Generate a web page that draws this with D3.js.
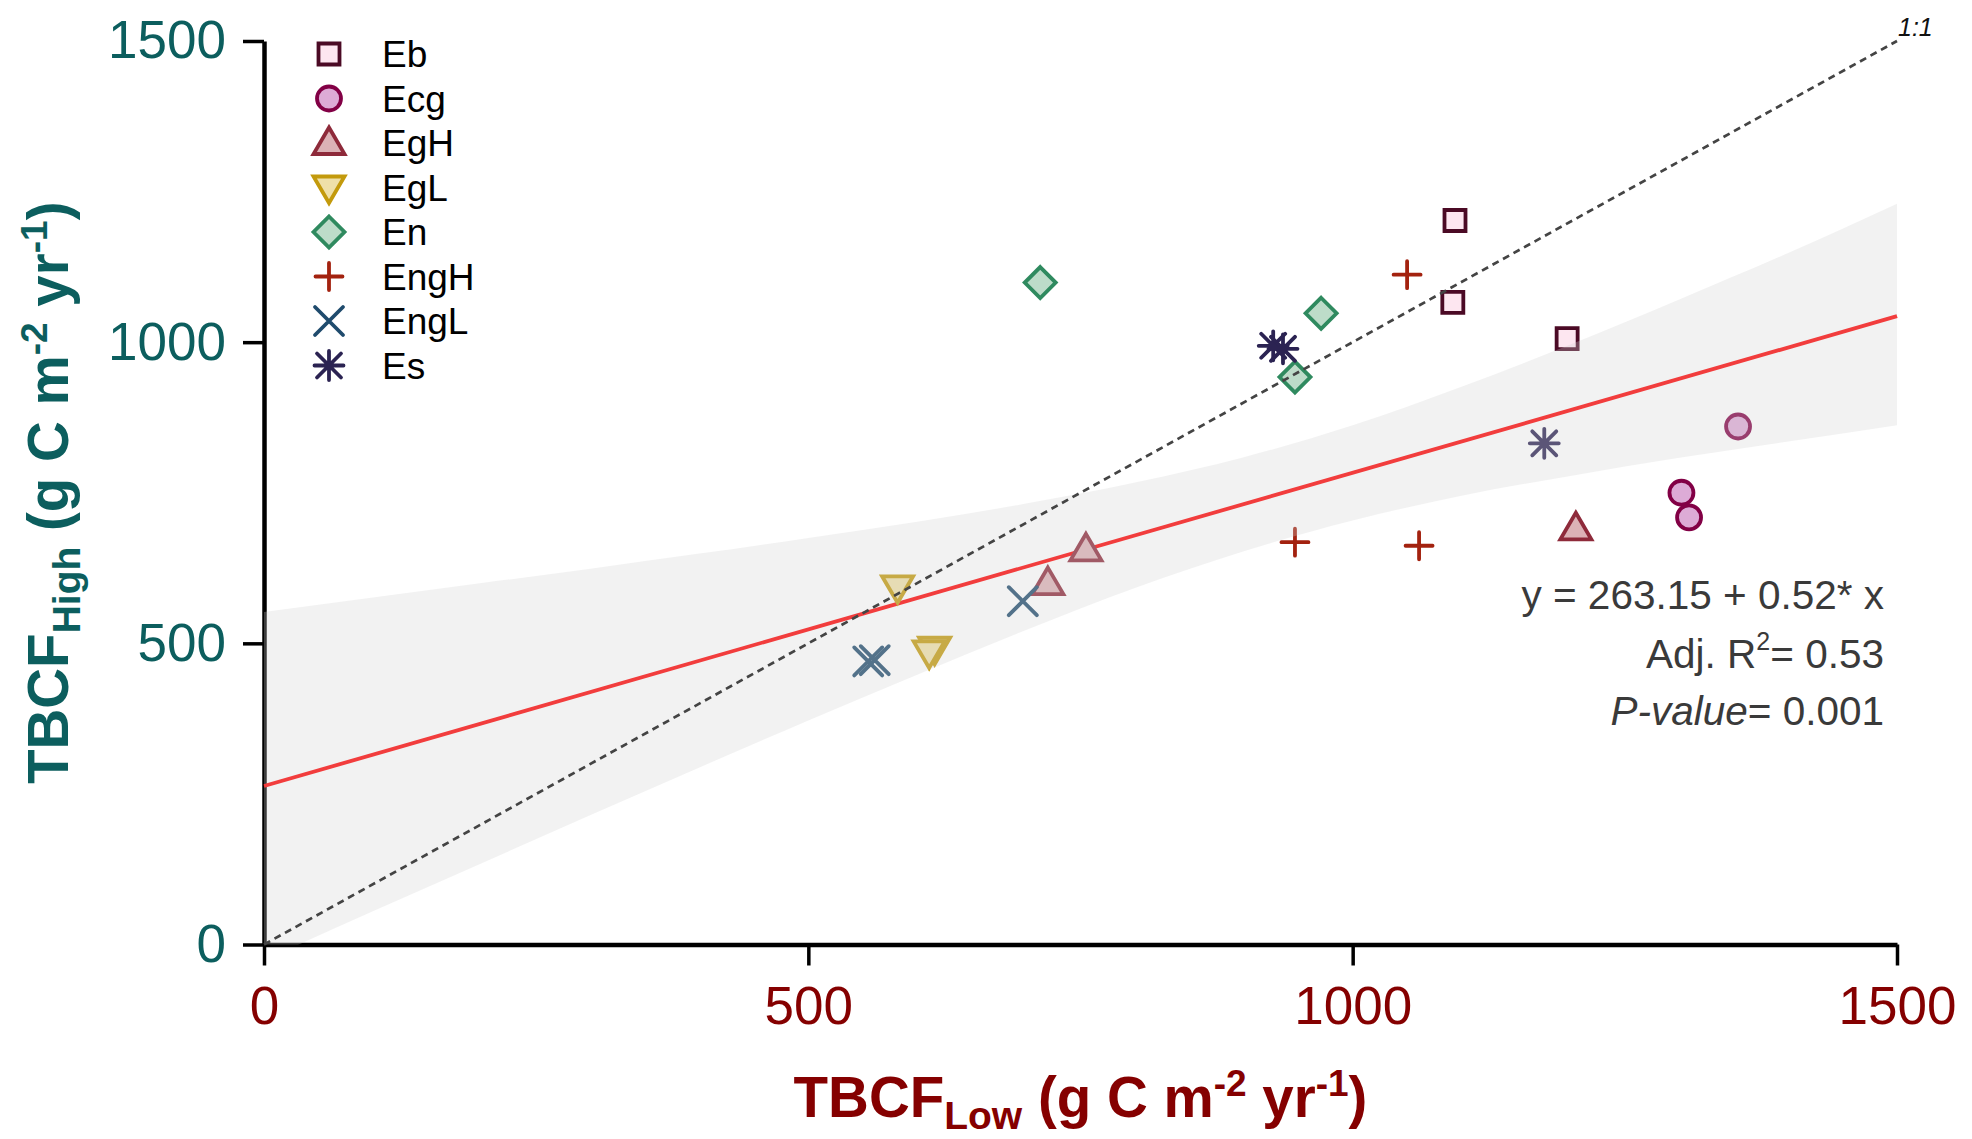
<!DOCTYPE html>
<html>
<head>
<meta charset="utf-8">
<script src="https://cdn.jsdelivr.net/npm/d3@7"></script>
<style>
body { margin: 0; background: #fff; }
text { font-family: "Liberation Sans", Arial, Helvetica, sans-serif; }
</style>
</head>
<body>
<svg id="chart" width="1972" height="1139"></svg>
<script>
// ---- data ----
var groups = ["Eb", "Ecg", "EgH", "EgL", "En", "EngH", "EngL", "Es"];

var lowEb   = [1094, 1092, 1197],  highEb   = [1202, 1066, 1006];
var lowEcg  = [1354, 1302, 1309],  highEcg  = [860, 750, 709];
var lowEgH  = [755, 720, 1205],    highEgH  = [656, 600, 691];
var lowEgL  = [582, 616, 611],     highEgL  = [593, 491, 485];
var lowEn   = [713, 971, 947],     highEn   = [1099, 1048, 942];
var lowEngH = [1050, 947, 1061],   highEngH = [1112, 668, 662];
var lowEngL = [697, 555, 561],     highEngL = [570, 470, 472];
var lowEs   = [927, 936, 1176],    highEs   = [994, 989, 832];

// regression line and its confidence band
var fitX = [0, 1500];
var fitY = [263.15, 1043.15];
var bandX     = [0, 100, 200, 300, 400, 500, 600, 700, 800, 900, 1000, 1100, 1200, 1300, 1400, 1500];
var bandLower = [-26, 55, 135, 215, 294, 372, 448, 522, 592, 653, 704, 745, 778, 808, 835, 862];
var bandUpper = [552, 576, 600, 624, 649, 675, 702, 732, 767, 809, 862, 926, 996, 1071, 1148, 1230];

var oneToOne = [0, 1500];
var xTicks = [0, 500, 1000, 1500];
var yTicks = [0, 500, 1000, 1500];

var seriesLow  = [lowEb, lowEcg, lowEgH, lowEgL, lowEn, lowEngH, lowEngL, lowEs];
var seriesHigh = [highEb, highEcg, highEgH, highEgL, highEn, highEngH, highEngL, highEs];

// ---- styles ----
var markerStyle = {
	Eb:   {shape: "square",   stroke: "#4b0a25", fill: "#fde6f0"},
	Ecg:  {shape: "circle",   stroke: "#820045", fill: "#ddabd6"},
	EgH:  {shape: "triUp",    stroke: "#8e2a3a", fill: "#dcb2b6"},
	EgL:  {shape: "triDown",  stroke: "#c39a0c", fill: "#efe0a8"},
	En:   {shape: "diamond",  stroke: "#2f8a5f", fill: "#bddcc9"},
	EngH: {shape: "plus",     stroke: "#a3220f", fill: "none"},
	EngL: {shape: "times",    stroke: "#1f4b6d", fill: "none"},
	Es:   {shape: "asterisk", stroke: "#2b2352", fill: "none"}
};

function shapePath(shape) {
	switch (shape) {
		case "square":   return "M-10.5,-10.5H10.5V10.5H-10.5Z";
		case "circle":   return "M12,0A12,12 0 1 1 -12,0A12,12 0 1 1 12,0Z";
		case "triUp":    return "M0,-15.5L15.5,11L-15.5,11Z";
		case "triDown":  return "M0,15.5L15.5,-11L-15.5,-11Z";
		case "diamond":  return "M0,-15.5L15.5,0L0,15.5L-15.5,0Z";
		case "plus":     return "M-13.5,0H13.5M0,-13.5V13.5";
		case "times":    return "M-14,-14L14,14M-14,14L14,-14";
		case "asterisk": return "M-14.5,0H14.5M0,-14.5V14.5M-12,-12L12,12M-12,12L12,-12";
	}
}

var svg = d3.select("#chart");
var plotLeft = 264, plotRight = 1897, plotTop = 41, plotBottom = 944.5;

var x = d3.scaleLinear().domain([0, 1500]).range([plotLeft, plotRight]);
var y = d3.scaleLinear().domain([0, 1500]).range([plotBottom, plotTop]);

svg.append("defs").append("clipPath").attr("id", "plotclip")
	.append("rect").attr("x", plotLeft).attr("y", plotTop)
	.attr("width", plotRight - plotLeft).attr("height", plotBottom - plotTop);

// axes
var yAxis = svg.append("g").attr("transform", "translate(" + plotLeft + ",0)")
	.call(d3.axisLeft(y).tickValues(yTicks).tickFormat(d3.format("d"))
		.tickSize(21).tickSizeOuter(0).tickPadding(17));
var xAxis = svg.append("g").attr("transform", "translate(0," + plotBottom + ")")
	.call(d3.axisBottom(x).tickValues(xTicks).tickFormat(d3.format("d"))
		.tickSize(21).tickSizeOuter(0).tickPadding(21));

[yAxis, xAxis].forEach(function (a) {
	a.select(".domain").attr("stroke", "#000").attr("stroke-width", 4.5);
	a.selectAll(".tick line").attr("stroke", "#000").attr("stroke-width", 3.5);
	a.selectAll(".tick text").attr("font-size", 53)
		.style("font-family", "'Liberation Sans', Arial, sans-serif");
});
yAxis.selectAll(".tick text").attr("fill", "#0c5e5e");
xAxis.selectAll(".tick text").attr("fill", "#850000");

// regression line
svg.append("path")
	.datum(d3.zip(fitX, fitY))
	.attr("d", d3.line().x(function (d) { return x(d[0]); }).y(function (d) { return y(d[1]); }))
	.attr("fill", "none").attr("stroke", "#ff0000").attr("stroke-width", 3.8);

// points
groups.forEach(function (g, i) {
	var st = markerStyle[g];
	var pts = d3.zip(seriesLow[i], seriesHigh[i]);
	svg.append("g").selectAll("path").data(pts).enter().append("path")
		.attr("transform", function (d) { return "translate(" + x(d[0]) + "," + y(d[1]) + ")"; })
		.attr("d", shapePath(st.shape))
		.attr("fill", st.fill).attr("stroke", st.stroke)
		.attr("stroke-width", 3.8)
		.attr("stroke-linecap", st.fill === "none" ? "round" : "butt")
		.attr("stroke-linejoin", "miter");
});

// confidence band, translucent on top of points
svg.append("path")
	.datum(d3.range(bandX.length))
	.attr("clip-path", "url(#plotclip)")
	.attr("d", d3.area()
		.x(function (i) { return x(bandX[i]); })
		.y0(function (i) { return y(bandLower[i]); })
		.y1(function (i) { return y(bandUpper[i]); })
		.curve(d3.curveMonotoneX))
	.attr("fill", "rgb(210,210,210)").attr("fill-opacity", 0.29);

// 1:1 line
svg.append("line")
	.attr("x1", x(oneToOne[0])).attr("y1", y(oneToOne[0]))
	.attr("x2", x(oneToOne[1])).attr("y2", y(oneToOne[1]))
	.attr("stroke", "#444").attr("stroke-width", 2.7)
	.attr("stroke-dasharray", "7,5");

svg.append("text").attr("x", plotRight + 1).attr("y", 36)
	.attr("font-size", 25).attr("font-style", "italic").attr("fill", "#111")
	.text("1:1");

// legend
groups.forEach(function (g, i) {
	var st = markerStyle[g];
	var ly = 54 + i * 44.5;
	svg.append("path")
		.attr("transform", "translate(329," + ly + ")")
		.attr("d", shapePath(st.shape))
		.attr("fill", st.fill).attr("stroke", st.stroke)
		.attr("stroke-width", 3.8)
		.attr("stroke-linecap", st.fill === "none" ? "round" : "butt");
	svg.append("text").attr("x", 382).attr("y", ly).attr("dy", "0.36em")
		.attr("font-size", 37).attr("fill", "#000").text(g);
});

// fit statistics
var stats = svg.append("g").attr("fill", "#3a3a3a").attr("font-size", 40.5)
	.attr("text-anchor", "end");
stats.append("text").attr("x", 1884).attr("y", 609).text("y = 263.15 + 0.52* x");
var r2 = stats.append("text").attr("x", 1884).attr("y", 668);
r2.append("tspan").text("Adj. R");
r2.append("tspan").attr("font-size", 25).attr("dy", -18).text("2");
r2.append("tspan").attr("dy", 18).text("= 0.53");
var pv = stats.append("text").attr("x", 1884).attr("y", 725);
pv.append("tspan").attr("font-style", "italic").text("P-value");
pv.append("tspan").text("= 0.001");

// axis titles
function axisTitle(sel, sub) {
	sel.attr("font-size", 56.5).attr("font-weight", "bold").attr("text-anchor", "middle");
	sel.append("tspan").text("TBCF");
	sel.append("tspan").attr("font-size", 39).attr("dy", 12).text(sub);
	sel.append("tspan").attr("dy", -12).text(" (g C m");
	sel.append("tspan").attr("font-size", 37).attr("dy", -21).text("-2");
	sel.append("tspan").attr("dy", 21).text(" yr");
	sel.append("tspan").attr("font-size", 37).attr("dy", -21).text("-1");
	sel.append("tspan").attr("dy", 21).text(")");
}
axisTitle(svg.append("text").attr("x", (plotLeft + plotRight) / 2).attr("y", 1117).attr("fill", "#850000"), "Low");
axisTitle(svg.append("text").attr("transform", "translate(68," + ((plotTop + plotBottom) / 2) + ") rotate(-90)")
	.attr("fill", "#0c5e5e"), "High");
</script>
</body>
</html>
